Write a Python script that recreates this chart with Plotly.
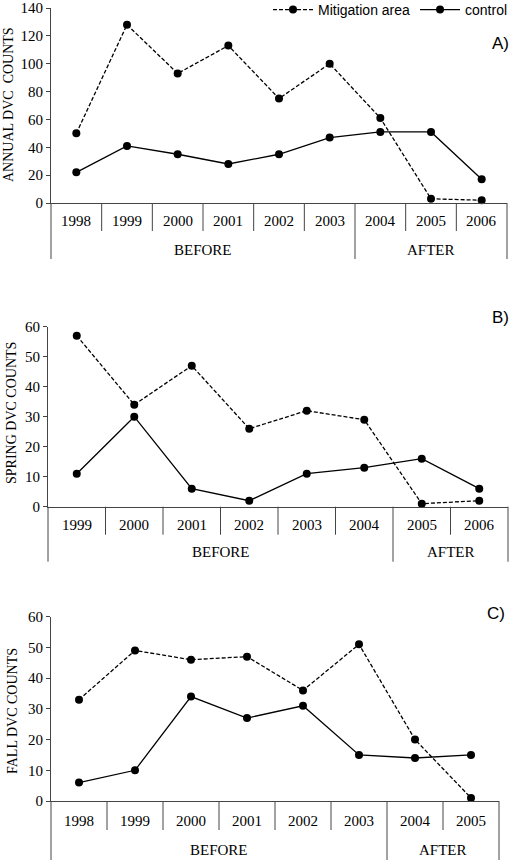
import plotly.graph_objects as go

# ---------------- data ----------------
years_a = ["1998", "1999", "2000", "2001", "2002", "2003", "2004", "2005", "2006"]
mitig_a = [50, 128, 93, 113, 75, 100, 61, 3, 2]
control_a = [22, 41, 35, 28, 35, 47, 51, 51, 17]
n_before_a = 6

years_b = ["1999", "2000", "2001", "2002", "2003", "2004", "2005", "2006"]
mitig_b = [57, 34, 47, 26, 32, 29, 1, 2]
control_b = [11, 30, 6, 2, 11, 13, 16, 6]
n_before_b = 6

years_c = ["1998", "1999", "2000", "2001", "2002", "2003", "2004", "2005"]
mitig_c = [33, 49, 46, 47, 36, 51, 20, 1]
control_c = [6, 10, 34, 27, 31, 15, 14, 15]
n_before_c = 6

period_labels = ["BEFORE", "AFTER"]
panel_tags = ["A)", "B)", "C)"]
ytitles = ["ANNUAL DVC  COUNTS", "SPRING DVC COUNTS", "FALL DVC COUNTS"]

W, H = 510, 860
SERIF = "Liberation Serif, Times New Roman, serif"
SANS = "Liberation Sans, Arial, sans-serif"

def px(x):
    return x / W

def py(y):
    return 1 - y / H

panels = [
    dict(years=years_a, m=mitig_a, c=control_a, nb=n_before_a, left=51, right=507,
         bottom=203, top=8, ymax=140, dtick=20, yr=18, grp=47, l1=28, l2=56,
         tag_xy=(500, 43), tt_xy=(8, 105)),
    dict(years=years_b, m=mitig_b, c=control_b, nb=n_before_b, left=48, right=508,
         bottom=506.7, top=326.7, ymax=60, dtick=10, yr=18, grp=45, l1=28, l2=55,
         tag_xy=(500, 317), tt_xy=(12, 413)),
    dict(years=years_c, m=mitig_c, c=control_c, nb=n_before_c, left=51, right=499,
         bottom=801, top=616.7, ymax=60, dtick=10, yr=20, grp=49, l1=29, l2=60,
         tag_xy=(496, 613), tt_xy=(12, 711)),
]

fig = go.Figure()
shapes = []
annotations = []

for k, p in enumerate(panels):
    sfx = "" if k == 0 else str(k + 1)
    xa, ya = "x" + sfx, "y" + sfx
    n = len(p["years"])
    xs = list(range(n))
    fig.add_trace(go.Scatter(
        x=xs, y=p["m"], xaxis=xa, yaxis=ya, mode="lines+markers",
        name="Mitigation area", showlegend=(k == 0), cliponaxis=False,
        line=dict(color="black", width=1.3, dash="4px,2px"),
        marker=dict(color="black", size=8)))
    fig.add_trace(go.Scatter(
        x=xs, y=p["c"], xaxis=xa, yaxis=ya, mode="lines+markers",
        name="control", showlegend=(k == 0), cliponaxis=False,
        line=dict(color="black", width=1.3),
        marker=dict(color="black", size=8)))

    xkey = "xaxis" + sfx
    ykey = "yaxis" + sfx
    fig.update_layout(**{
        xkey: dict(domain=[px(p["left"]), px(p["right"])], range=[-0.5, n - 0.5],
                   anchor=ya, showline=True, linecolor="#444", linewidth=1,
                   showticklabels=False, ticks="", showgrid=False, zeroline=False,
                   fixedrange=True, automargin=False),
        ykey: dict(domain=[py(p["bottom"]), py(p["top"])], range=[0, p["ymax"]],
                   tickmode="array", tickvals=list(range(0, p["ymax"] + 1, p["dtick"])),
                   anchor=xa, showline=True, linecolor="#444",
                   linewidth=1, ticks="outside", ticklen=4, tickcolor="#444",
                   showgrid=False, zeroline=False, automargin=False,
                   ticklabeloverflow="allow",
                   tickfont=dict(family=SERIF, size=15, color="black"),
                   fixedrange=True),
    })

    xd = xa + " domain"
    for i in range(n + 1):
        if i == 0 or i == n or i == p["nb"]:
            length = p["l2"]
        else:
            length = p["l1"]
        shapes.append(dict(type="line", xref=xd, yref="paper",
                           x0=i / n, x1=i / n, y0=py(p["bottom"]), y1=py(p["bottom"] + length),
                           line=dict(color="#444", width=1)))
    for i, yl in enumerate(p["years"]):
        annotations.append(dict(text=yl, xref=xa, yref="paper", x=i, y=py(p["bottom"] + p["yr"]),
                                showarrow=False, xanchor="center", yanchor="middle",
                                font=dict(family=SERIF, size=15, color="black")))
    annotations.append(dict(text=period_labels[0], xref=xa, yref="paper",
                            x=(p["nb"] - 1) / 2, y=py(p["bottom"] + p["grp"]),
                            showarrow=False, xanchor="center", yanchor="middle",
                            font=dict(family=SERIF, size=15, color="black")))
    annotations.append(dict(text=period_labels[1], xref=xa, yref="paper",
                            x=(p["nb"] + n - 1) / 2, y=py(p["bottom"] + p["grp"]),
                            showarrow=False, xanchor="center", yanchor="middle",
                            font=dict(family=SERIF, size=15, color="black")))
    annotations.append(dict(text=panel_tags[k], xref="paper", yref="paper",
                            x=px(p["tag_xy"][0]), y=py(p["tag_xy"][1]),
                            showarrow=False, xanchor="center", yanchor="middle",
                            font=dict(family=SANS, size=17, color="black")))
    annotations.append(dict(text=ytitles[k], xref="paper", yref="paper",
                            x=px(p["tt_xy"][0]), y=py(p["tt_xy"][1]), textangle=-90,
                            showarrow=False, xanchor="center", yanchor="middle",
                            font=dict(family=SERIF, size=14, color="black")))

fig.update_layout(
    width=W, height=H,
    margin=dict(l=0, r=0, t=0, b=0, pad=0, autoexpand=False),
    paper_bgcolor="white", plot_bgcolor="white",
    shapes=shapes, annotations=annotations,
    showlegend=True,
    legend=dict(orientation="h", x=px(268), y=1.007, xanchor="left", yanchor="top",
                font=dict(family=SANS, size=14, color="black"),
                bgcolor="rgba(0,0,0,0)", tracegroupgap=0, itemwidth=40,
                traceorder="normal"),
)

fig.write_html("out.html", config={"displayModeBar": False},
               post_script="document.body.style.margin='0';document.body.style.overflow='hidden';")
